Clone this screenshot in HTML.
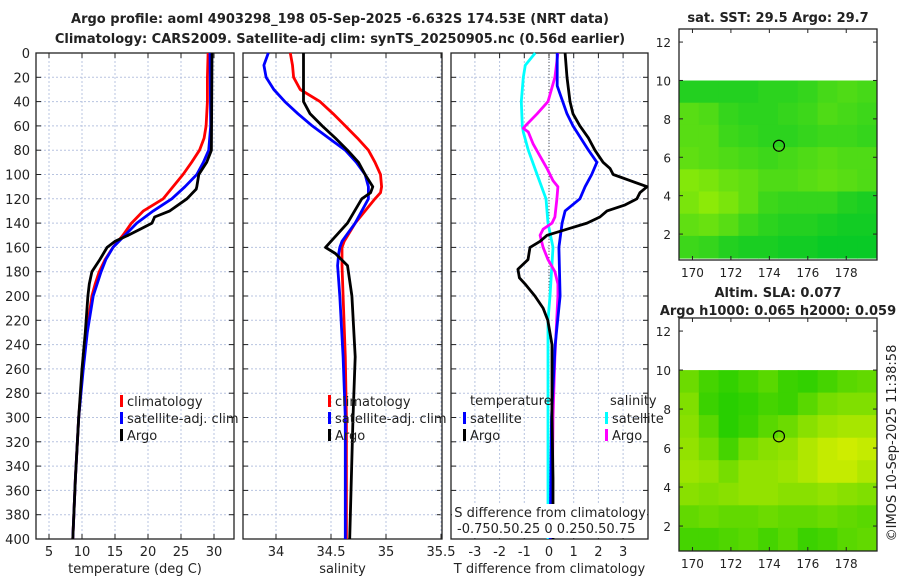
<!DOCTYPE html>
<html><head><meta charset="utf-8"><style>
body{margin:0;background:#fff;width:900px;height:580px;overflow:hidden}
svg{font-family:"DejaVu Sans","Liberation Sans",sans-serif}
</style></head><body>
<svg id="c" width="900" height="580"></svg>
<script>
// ---- data ----
const depthRed=[0,20,40,60,70,80,90,100,120,130,140,150,160,170,180,190,200,230,260,300,350,400];
const tempRed=[29.1,29.0,29.0,28.8,28.5,27.8,26.6,25.3,22.3,19.3,17.5,16.2,14.7,13.5,12.6,12.0,11.5,10.7,10.1,9.5,9.0,8.6];
const depthBlue=[0,60,80,90,100,110,120,130,140,150,160,170,180,200,230,260,300,350,400];
const tempBlue=[29.4,29.5,29.2,28.4,27.4,25.6,23.6,20.8,18.3,16.5,14.7,13.6,12.9,11.7,10.8,10.2,9.5,9.0,8.6];
const depthArgo=[0,80,90,100,110,112,120,130,135,140,145,150,155,160,170,180,190,200,230,260,300,350,400];
const tempArgo=[29.7,29.6,28.9,27.7,27.4,27.3,25.9,23.3,21.0,20.6,18.8,17.0,15.0,13.8,12.7,11.5,11.1,10.9,10.5,10.0,9.5,9.0,8.6];
const depthS=[0,10,20,30,40,50,60,70,80,90,100,110,115,120,140,155,160,165,175,200,250,300,400];
const salRed=[34.13,34.15,34.16,34.22,34.4,34.52,34.63,34.74,34.84,34.9,34.95,34.96,34.95,34.9,34.72,34.62,34.6,34.6,34.6,34.61,34.63,34.64,34.64];
const salBlue=[33.93,33.89,33.91,33.98,34.08,34.2,34.33,34.48,34.63,34.73,34.81,34.84,34.84,34.84,34.72,34.6,34.58,34.57,34.56,34.58,34.61,34.63,34.63];
const salArgo=[34.25,34.25,34.25,34.25,34.25,34.31,34.42,34.54,34.65,34.75,34.81,34.88,34.86,34.78,34.65,34.5,34.45,34.54,34.65,34.69,34.72,34.7,34.67];
const depthTD=[0,20,40,50,60,70,80,90,95,100,105,110,115,120,125,130,135,140,145,150,155,160,170,178,185,190,200,210,220,240,300,350,400];
const tdArgo=[0.65,0.73,0.85,0.97,1.25,1.6,1.86,2.19,2.47,2.6,3.28,3.97,3.68,3.56,3.08,2.35,2.06,1.54,0.73,-0.08,-0.36,-0.77,-0.85,-1.26,-1.2,-0.97,-0.57,-0.24,-0.05,0.12,0.12,0.16,0.16];
const depthTS=[0,27,50,60,80,90,100,110,120,130,140,160,200,240,300,400];
const tdSat=[0.33,0.33,0.73,0.97,1.6,1.94,1.73,1.46,1.25,0.65,0.53,0.4,0.45,0.25,0.1,0.05];
const depthSD=[0,10,20,40,60,65,80,100,120,140,160,200,220,250,300,400];
const sdSat=[-0.14,-0.24,-0.26,-0.28,-0.27,-0.26,-0.21,-0.12,-0.03,-0.01,0.04,0.01,-0.01,-0.01,-0.01,-0.01];
const depthSA=[0,20,40,50,60,62,65,75,85,95,105,110,120,135,140,145,150,160,170,180,190,200,250,300,400];
const sdArgo=[0.09,0.06,-0.01,-0.12,-0.24,-0.26,-0.21,-0.16,-0.09,-0.02,0.04,0.09,0.08,0.06,0.03,-0.06,-0.09,-0.06,-0.01,0.06,0.09,0.09,0.06,0.04,0.03];
const depthTicks=[0,20,40,60,80,100,120,140,160,180,200,220,240,260,280,300,320,340,360,380,400];
const tTicks=[5,10,15,20,25,30];
const sTicks=[34,34.5,35,35.5];
const dTicks=[-3,-2,-1,0,1,2,3];
const lonTicks=[170,172,174,176,178];
const latTicks=[2,4,6,8,10,12];
const sstGrid=[
[0.2,0.2,0.2,0.2,0.25,0.25,0.3,0.4,0.45,0.4],
[0.5,0.45,0.3,0.25,0.25,0.3,0.35,0.45,0.4,0.35],
[0.5,0.5,0.35,0.3,0.25,0.25,0.3,0.35,0.35,0.3],
[0.55,0.5,0.45,0.4,0.35,0.4,0.45,0.5,0.45,0.45],
[0.75,0.7,0.6,0.55,0.45,0.45,0.5,0.55,0.5,0.45],
[0.7,0.8,0.7,0.55,0.35,0.3,0.3,0.3,0.2,0.15],
[0.55,0.6,0.5,0.35,0.25,0.2,0.2,0.15,0.1,0.1],
[0.35,0.3,0.2,0.15,0.15,0.1,0.1,0.05,0.05,0.05]];
const slaGrid=[
[0.4,0.2,0.1,0.2,0.3,0.15,0.1,0.2,0.3,0.35],
[0.5,0.15,0.05,0.1,0.2,0.15,0.3,0.45,0.5,0.5],
[0.55,0.3,0.05,0.15,0.3,0.4,0.55,0.65,0.7,0.7],
[0.6,0.45,0.2,0.45,0.55,0.6,0.75,0.85,0.9,0.85],
[0.65,0.6,0.45,0.6,0.6,0.65,0.75,0.85,0.85,0.75],
[0.55,0.5,0.55,0.6,0.6,0.55,0.55,0.6,0.55,0.5],
[0.35,0.4,0.35,0.35,0.4,0.35,0.35,0.4,0.35,0.3],
[0.2,0.2,0.25,0.3,0.2,0.3,0.15,0.2,0.3,0.35]];
const argoLon=174.5, argoLat=6.6;

// ---- helpers ----
const NS="http://www.w3.org/2000/svg", svg=document.getElementById('c');
function el(t,a,p){const e=document.createElementNS(NS,t);for(const k in a)e.setAttribute(k,a[k]);(p||svg).appendChild(e);return e;}
function txt(s,x,y,o){const e=el('text',Object.assign({x:x,y:y,'font-size':13,fill:'#222'},o||{}));e.textContent=s;return e;}
const pTop=53, pBot=539;
const yD=d=>pTop+d*(pBot-pTop)/400;
function panel(name,x0,x1,xs,ticks,fmt,label,showY){
  const g=el('g',{});
  
  
  depthTicks.forEach(d=>{const y=yD(d);
    el('line',{x1:x0,x2:x1,y1:y,y2:y,stroke:'#b8c4e0','stroke-width':1,'stroke-dasharray':'2,2'},g);
    el('line',{x1:x0,x2:x0+5,y1:y,y2:y,stroke:'#222'},g);
    el('line',{x1:x1-5,x2:x1,y1:y,y2:y,stroke:'#222'},g);
    if(showY){const t=txt(String(d),x0-6,y+5,{'text-anchor':'end'});}
  });
  ticks.forEach(v=>{const x=xs(v);
    el('line',{x1:x,x2:x,y1:pTop,y2:pBot,stroke:'#b8c4e0','stroke-width':1,'stroke-dasharray':'2,2'},g);
    el('line',{x1:x,x2:x,y1:pBot-5,y2:pBot,stroke:'#222'},g);
    el('line',{x1:x,x2:x,y1:pTop,y2:pTop+5,stroke:'#222'},g);
    const t=txt(fmt(v),x,556,{'text-anchor':'middle'});
  });
  el('rect',{x:x0,y:pTop,width:x1-x0,height:pBot-pTop,fill:'none',stroke:'#222','stroke-width':1.3},g);
  const t=txt(label,(x0+x1)/2,573,{'text-anchor':'middle'});
  return g;
}
function line(g,xs,vals,depths,color,name){
  const pts=vals.map((v,i)=>xs(v).toFixed(1)+','+yD(depths[i]).toFixed(1)).join(' ');
  const p=el('polyline',{points:pts,fill:'none',stroke:color,'stroke-width':2.8,'stroke-linejoin':'round'},g);
  
  
}
function legend(g,x,y,color,label){
  el('rect',{x:x,y:y-10,width:3,height:12,fill:color},g);
  const t=txt(label,x+7,y+1);
  
  
}

// titles
let t1=txt('Argo profile: aoml 4903298_198 05-Sep-2025 -6.632S 174.53E (NRT data)',340,23,{'text-anchor':'middle','font-weight':'bold'});

let t2=txt('Climatology: CARS2009. Satellite-adj clim: synTS_20250905.nc (0.56d earlier)',340,43,{'text-anchor':'middle','font-weight':'bold'});


// panel 1 temperature
const xT=v=>49+(v-5)*6.6;
const g1=panel('temperature-panel',36,234,xT,tTicks,String,'temperature (deg C)',true);
line(g1,xT,tempRed,depthRed,'#f00','climatology-temp-line');
line(g1,xT,tempBlue,depthBlue,'#00f','satellite-temp-line');
line(g1,xT,tempArgo,depthArgo,'#000','argo-temp-line');
legend(g1,120,405,'#f00','climatology');
legend(g1,120,422,'#00f','satellite-adj. clim');
legend(g1,120,439,'#000','Argo');

// panel 2 salinity
const xS=v=>276+(v-34)*110;
const g2=panel('salinity-panel',243,442,xS,sTicks,String,'salinity',false);
line(g2,xS,salRed,depthS,'#f00','climatology-sal-line');
line(g2,xS,salBlue,depthS,'#00f','satellite-sal-line');
line(g2,xS,salArgo,depthS,'#000','argo-sal-line');
legend(g2,328,405,'#f00','climatology');
legend(g2,328,422,'#00f','satellite-adj. clim');
legend(g2,328,439,'#000','Argo');

// panel 3 differences
const xD=v=>549+v*24.7;
const xSD=v=>549+v*98.8;
const g3=panel('difference-panel',451,648,xD,dTicks,String,'T difference from climatology',false);
el('line',{x1:549,x2:549,y1:pTop,y2:pBot,stroke:'#555','stroke-width':1,'stroke-dasharray':'1,2'},g3);
line(g3,xSD,sdSat,depthSD,'#0ff','satellite-sdiff-line');
line(g3,xSD,sdArgo,depthSA,'#f0f','argo-sdiff-line');
line(g3,xD,tdSat,depthTS,'#00f','satellite-tdiff-line');
line(g3,xD,tdArgo,depthTD,'#000','argo-tdiff-line');
let lt=txt('temperature',470,405);
let ls=txt('salinity',610,405);
legend(g3,463,422,'#00f','satellite');
legend(g3,463,439,'#000','Argo');
legend(g3,605,422,'#0ff','satellite');
legend(g3,605,439,'#f0f','Argo');
el('rect',{x:452,y:504,width:195,height:34,fill:'#fff'},g3);
let st=txt('S difference from climatology',646,517,{'text-anchor':'end'});
let sl=txt('-0.750.50.25 0 0.250.50.75',457,533);

// maps
function map(name,x0,x1,ytop,ybot,latTop,latBot,grid,c0,c1,titles){
  const g=el('g',{});
  
  
  const lon0=169.3,lon1=179.6;
  const X=v=>x0+(v-lon0)*(x1-x0)/(lon1-lon0);
  const Y=v=>ytop+(latTop-v)*(ybot-ytop)/(latTop-latBot);
  const rows=grid.length, cols=grid[0].length;
  const dLat=(10-0.75)/rows, dLon=(lon1-lon0)/cols;
  grid.forEach((row,i)=>row.forEach((v,j)=>{
    const r=Math.round(c0[0]+(c1[0]-c0[0])*v),gg=Math.round(c0[1]+(c1[1]-c0[1])*v),b=Math.round(c0[2]+(c1[2]-c0[2])*v);
    const x=X(lon0+j*dLon), y=Y(10-i*dLat);
    const c=el('rect',{x:x.toFixed(1),y:y.toFixed(1),width:(X(lon0+(j+1)*dLon)-x+0.5).toFixed(1),height:(Y(10-(i+1)*dLat)-y+0.5).toFixed(1),fill:`rgb(${r},${gg},${b})`},g);
    
    
  }));
  const circ=el('circle',{cx:X(argoLon),cy:Y(argoLat),r:5.5,fill:'none',stroke:'#000','stroke-width':1.2},g);
  
  
  el('rect',{x:x0,y:ytop,width:x1-x0,height:ybot-ytop,fill:'none',stroke:'#222','stroke-width':1.3},g);
  lonTicks.forEach(v=>{const x=X(v);
    el('line',{x1:x,x2:x,y1:ybot-4,y2:ybot,stroke:'#222'},g);
    el('line',{x1:x,x2:x,y1:ytop,y2:ytop+4,stroke:'#222'},g);
    const t=txt(String(v),x,ybot+17,{'text-anchor':'middle','font-size':12});});
  latTicks.forEach(v=>{const y=Y(v);
    el('line',{x1:x0,x2:x0+4,y1:y,y2:y,stroke:'#222'},g);
    el('line',{x1:x1-4,x2:x1,y1:y,y2:y,stroke:'#222'},g);
    const t=txt(String(v),x0-8,y+5,{'text-anchor':'end','font-size':12});});
  titles.forEach(([s,y])=>{const t=txt(s,778,y,{'text-anchor':'middle','font-weight':'bold'});});
}
map('sst-map',679,877,29,260,12.68,0.65,sstGrid,[0,200,40],[175,242,0],[['sat. SST: 29.5 Argo: 29.7',22]]);
map('sla-map',679,877,318,551,12.67,0.72,slaGrid,[30,205,0],[225,240,0],[['Altim. SLA: 0.077',297],['Argo h1000: 0.065 h2000: 0.059',315]]);
let cp=txt('©IMOS 10-Sep-2025 11:38:58',0,0,{'text-anchor':'middle',transform:'translate(896,443) rotate(-90)'});

</script>
</body></html>
